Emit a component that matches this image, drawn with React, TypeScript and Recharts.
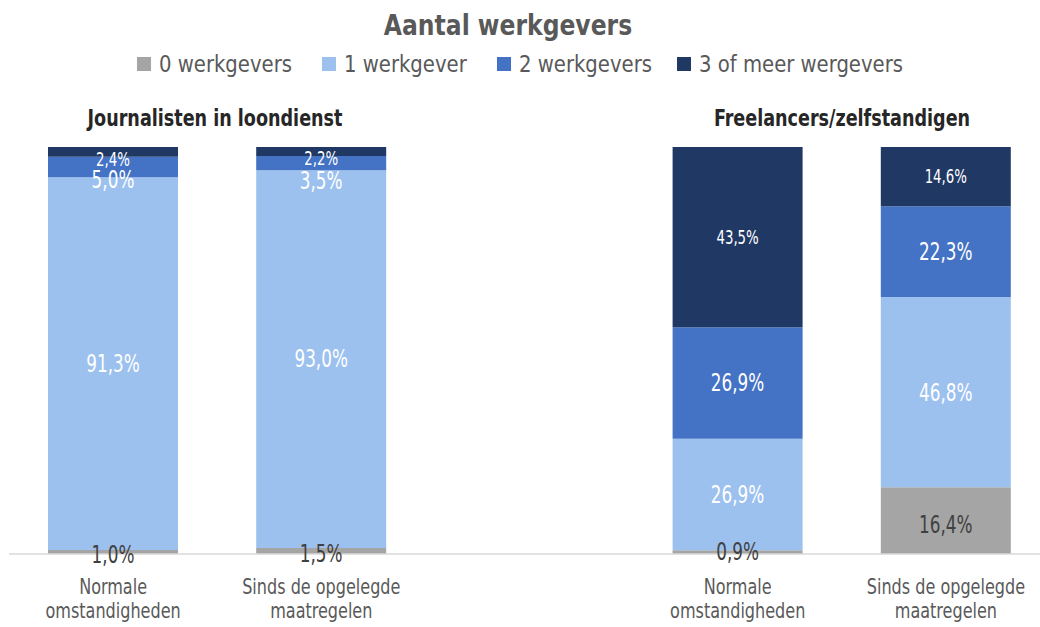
import { Bar, BarChart, LabelList, XAxis, YAxis } from "recharts";

const FONT = "'DejaVu Sans Condensed', 'DejaVu Sans', sans-serif";

const CATEGORIES = [
  "Normale|omstandigheden",
  "Sinds de opgelegde|maatregelen",
  "",
  "Normale|omstandigheden",
  "Sinds de opgelegde|maatregelen",
];
const ZERO = [1.0, 1.5, null, 0.9, 16.4];
const ONE = [91.3, 93.0, null, 26.9, 46.8];
const TWO = [5.0, 3.5, null, 26.9, 22.3];
const THREE = [2.4, 2.2, null, 43.5, 14.6];
const GROUPS = ["Journalisten in loondienst", "Freelancers/zelfstandigen"];

const SERIES = [
  { key: "zero", name: "0 werkgevers", color: "#a5a5a5", text: "#404040", size: 24 },
  { key: "one", name: "1 werkgever", color: "#9dc1ef", text: "#ffffff", size: 24 },
  { key: "two", name: "2 werkgevers", color: "#4472c4", text: "#ffffff", size: 24 },
  { key: "three", name: "3 of meer wergevers", color: "#203864", text: "#ffffff", size: 19 },
];

// labels of very thin segments get pushed down a little so they don't collide (as in the original)
const LABEL_NUDGE: Record<string, number[]> = {
  zero: [3, 3, 0, 4, 0],
  one: [0, 0, 0, 0, 0],
  two: [13, 18, 0, 0, 0],
  three: [7, 7, 0, 0, 0],
};

const data = CATEGORIES.map((name, i) => ({
  id: i,
  name,
  zero: ZERO[i],
  one: ONE[i],
  two: TWO[i],
  three: THREE[i],
}));

// squeeze text a bit so DejaVu Condensed looks closer to the narrow original font
function Squeezed({ x, y, sx, anchor = "middle", children, ...rest }: any) {
  return (
    <text
      transform={`translate(${x} ${y}) scale(${sx} 1)`}
      textAnchor={anchor}
      fontFamily={FONT}
      {...rest}
    >
      {children}
    </text>
  );
}

function Tick(props: any) {
  const { x, payload } = props;
  const label = CATEGORIES[payload.value];
  if (!label) return null;
  const lines = label.split("|");
  return (
    <g>
      {lines.map((l, i) => (
        <Squeezed key={i} x={x} y={594 + i * 24} sx={0.85} fill="#595959" fontSize={21}>
          {l}
        </Squeezed>
      ))}
    </g>
  );
}

function makeLabel(key: string, fill: string, size: number) {
  return (props: any) => {
    const { x, y, width, height, value, index } = props;
    if (value == null) return null;
    return (
      <Squeezed
        x={x + width / 2}
        y={y + height / 2 + (LABEL_NUDGE[key][index] ?? 0)}
        sx={0.78}
        dominantBaseline="central"
        fill={fill}
        fontSize={size}
      >
        {Number(value).toFixed(1).replace(".", ",")}%
      </Squeezed>
    );
  };
}

const LEGEND_X = [137, 322, 497, 677];

function Header() {
  return (
    <svg width={1040} height={140} style={{ position: "absolute", left: 0, top: 0 }}>
      <Squeezed x={508} y={35} sx={0.9} fill="#595959" fontSize={29} fontWeight="bold">
        Aantal werkgevers
      </Squeezed>
      {SERIES.map((s, i) => (
        <g key={s.key}>
          <rect x={LEGEND_X[i]} y={57} width={14} height={14} fill={s.color} />
          <Squeezed x={LEGEND_X[i] + 22} y={72} sx={0.95} anchor="start" fill="#595959" fontSize={23}>
            {s.name}
          </Squeezed>
        </g>
      ))}
      <Squeezed x={215} y={126} sx={0.85} fill="#262626" fontSize={23} fontWeight="bold">
        {GROUPS[0]}
      </Squeezed>
      <Squeezed x={842} y={126} sx={0.85} fill="#262626" fontSize={23} fontWeight="bold">
        {GROUPS[1]}
      </Squeezed>
    </svg>
  );
}

export default function App() {
  return (
    <div style={{ position: "absolute", left: 0, top: 0, width: 1040, height: 627, overflow: "hidden", background: "#fff" }}>
      <BarChart
        width={1050}
        height={627}
        data={data}
        stackOffset="expand"
        barSize={130}
        margin={{ top: 147, right: 0, bottom: 0, left: 9 }}
        style={{ position: "absolute", left: 0, top: 0 }}
      >
        <XAxis
          dataKey="id"
          tick={<Tick />}
          tickLine={false}
          axisLine={{ stroke: "#d9d9d9", strokeWidth: 1.5 }}
          height={73}
          interval={0}
        />
        <YAxis hide domain={[0, 1]} />
        {SERIES.map((s) => (
          <Bar key={s.key} dataKey={s.key} name={s.name} stackId="a" fill={s.color} isAnimationActive={false}>
            <LabelList dataKey={s.key} content={makeLabel(s.key, s.text, s.size)} />
          </Bar>
        ))}
      </BarChart>
      <Header />
    </div>
  );
}
